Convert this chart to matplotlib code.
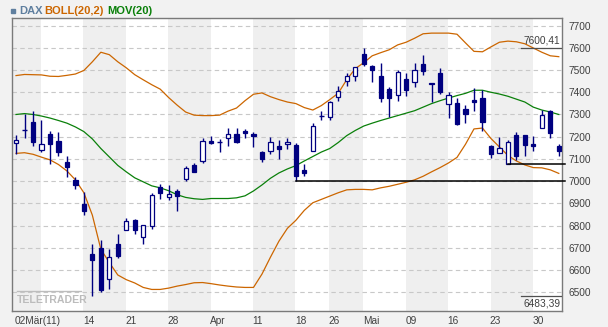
import matplotlib
matplotlib.use("Agg")
import matplotlib.pyplot as plt
import matplotlib.transforms as mtransforms

# DAX daily candles, 02.03.2011 - 02.06.2011 (one entry per trading day)
opens = [7171, 7230, 7265, 7139, 7213, 7180, 7084, 7006, 6898, 6672,
         6698, 6558, 6717, 6782, 6824, 6750, 6800, 6973, 6931, 6956,
         7012, 7072, 7090, 7181, 7175, 7194, 7214, 7227, 7214, 7133,
         7136, 7158, 7166, 7164, 7052, 7136, 7292, 7289, 7377, 7450,
         7473, 7573, 7519, 7474, 7414, 7387, 7459, 7444, 7528, 7443,
         7486, 7348, 7350, 7326, 7363, 7374, 7160, 7128, 7079, 7206,
         7206, 7166, 7240, 7315, 7156]
highs = [7208, 7304, 7316, 7276, 7226, 7220, 7114, 7019, 6950, 6717,
         6735, 6695, 6762, 6835, 6832, 6805, 6946, 6986, 6982, 6964,
         7069, 7081, 7193, 7202, 7190, 7239, 7239, 7235, 7223, 7136,
         7199, 7187, 7194, 7172, 7077, 7263, 7317, 7360, 7428, 7485,
         7513, 7600.41, 7522, 7533, 7425, 7500, 7488, 7533, 7569, 7443,
         7508, 7402, 7374, 7341, 7417, 7410, 7164, 7200, 7184, 7221,
         7208, 7204, 7321, 7321, 7165]
lows = [7123, 7194, 7156, 7129, 7076, 7111, 7021, 6964, 6848, 6483.39,
        6500, 6516, 6656, 6780, 6764, 6717, 6787, 6920, 6916, 6868,
        7003, 7042, 7081, 7166, 7129, 7157, 7170, 7193, 7152, 7085,
        7121, 7099, 7143, 7002, 7022, 7136, 7275, 7275, 7359, 7426,
        7452, 7519, 7444, 7354, 7287, 7360, 7383, 7422, 7477, 7354,
        7392, 7284, 7254, 7263, 7315, 7227, 7106, 7128, 7078, 7094,
        7111, 7135, 7240, 7194, 7111]
closes = [7184, 7230, 7178, 7166, 7166, 7133, 7066, 6982, 6868, 6645,
          6510, 6657, 6665, 6821, 6782, 6805, 6937, 6949, 6943, 6934,
          7058, 7043, 7180, 7172, 7175, 7214, 7175, 7215, 7202, 7100,
          7176, 7143, 7176, 7022, 7036, 7248, 7292, 7356, 7405, 7473,
          7513, 7527, 7498, 7372, 7372, 7491, 7408, 7500, 7494, 7435,
          7399, 7389, 7257, 7302, 7356, 7266, 7124, 7151, 7175, 7113,
          7164, 7158, 7296, 7218, 7135]

# Bollinger (20,2) bands and 20-day moving average
boll_upper = [7475, 7480, 7479, 7478, 7472, 7471, 7476, 7482, 7498, 7537,
              7580, 7569, 7537, 7510, 7479, 7456, 7434, 7414, 7376, 7342,
              7311, 7297, 7295, 7295, 7297, 7315, 7329, 7362, 7391, 7397,
              7380, 7367, 7356, 7349, 7331, 7320, 7340, 7367, 7396, 7457,
              7506, 7533, 7564, 7578, 7591, 7613, 7625, 7643, 7663, 7666,
              7666, 7666, 7661, 7622, 7584, 7582, 7604, 7625, 7630, 7627,
              7618, 7599, 7580, 7564, 7560]
boll_lower = [7125, 7128, 7121, 7108, 7096, 7075, 7046, 7006, 6948, 6847,
              6694, 6634, 6578, 6557, 6542, 6522, 6513, 6513, 6519, 6528,
              6535, 6543, 6544, 6539, 6533, 6528, 6524, 6522, 6522, 6582,
              6658, 6730, 6788, 6824, 6869, 6903, 6918, 6933, 6948, 6961,
              6963, 6963, 6961, 6970, 6977, 6986, 6995, 7006, 7022, 7042,
              7061, 7082, 7107, 7166, 7235, 7239, 7192, 7154, 7116, 7091,
              7073, 7061, 7060, 7051, 7035]
mov20 = [7300, 7304, 7300, 7293, 7284, 7273, 7261, 7244, 7223, 7190,
         7147, 7109, 7071, 7042, 7015, 6997, 6979, 6970, 6957, 6939,
         6927, 6921, 6918, 6922, 6922, 6922, 6925, 6934, 6956, 6983,
         7013, 7037, 7055, 7070, 7091, 7111, 7131, 7147, 7174, 7205,
         7228, 7248, 7261, 7273, 7284, 7295, 7306, 7317, 7333, 7349,
         7362, 7374, 7385, 7395, 7409, 7409, 7400, 7392, 7382, 7369,
         7356, 7333, 7320, 7311, 7300]

# first trading day of each week and its axis label
week_starts = [0, 3, 8, 13, 18, 23, 28, 33, 37, 41, 46, 51, 56, 61]
week_labels = ['02Mär(11)', '', '14', '21', '28', 'Apr', '11', '18', '26',
               'Mai', '09', '16', '23', '30']

y_ticks = [6500, 6600, 6700, 6800, 6900, 7000, 7100, 7200, 7300, 7400,
           7500, 7600, 7700]

# support lines: start index and level
support_lines = [(33, 7002), (58, 7078)]

CANDLE = '#000080'
ORANGE = '#cc6600'
GREEN = '#0a800a'
TXT = '#404040'

plt.rcParams['font.family'] = ['Liberation Sans', 'DejaVu Sans']

fig = plt.figure(figsize=(6.08, 3.27), dpi=100, facecolor='#f2f2f2')
ax = fig.add_axes([12.3 / 608, 1 - 311 / 327, (562 - 12.3) / 608, (311 - 18) / 327])
ax.set_facecolor('white')

x0, x1 = -0.44, 64.38
ax.set_xlim(x0, x1)
ax.set_ylim(6416, 7734)

# alternating week shading
for k, s in enumerate(week_starts):
    left = x0 if k == 0 else s - 0.05
    right = week_starts[k + 1] - 0.05 if k + 1 < len(week_starts) else x1
    if k % 2 == 0:
        ax.axvspan(left, right, color='#efefef', lw=0, zorder=0)

for v in y_ticks:
    ax.axhline(v, color='#c8c8c8', lw=0.8, dashes=(4, 3), zorder=1)

n = len(closes)
xs = list(range(n))

ax.plot(xs, boll_upper, color=ORANGE, lw=0.9, zorder=2)
ax.plot(xs, boll_lower, color=ORANGE, lw=0.9, zorder=2)
ax.plot(xs, mov20, color=GREEN, lw=0.9, zorder=2)

ax.vlines(xs, lows, highs, color=CANDLE, lw=1.0, zorder=3)
for i in xs:
    o, c = opens[i], closes[i]
    if o == c:
        ax.hlines(o, i - 0.3, i + 0.3, color=CANDLE, lw=1.0, zorder=4)
        continue
    face = 'white' if c > o else CANDLE
    ax.bar(i, abs(c - o), bottom=min(o, c), width=0.5, facecolor=face,
           edgecolor=CANDLE, linewidth=0.9, zorder=4)

for start, level in support_lines:
    ax.plot([start, x1 + 0.35], [level, level], color='black', lw=1.1,
            zorder=5, clip_on=False)

# max / min markers
hi = max(highs)
lo = min(lows)
ax.plot([x1 - 4.8, x1], [hi, hi], color='#505050', lw=0.9, zorder=5)
ax.text(x1 - 0.2, hi + 8, f"{hi:.2f}".replace('.', ','), ha='right', va='bottom',
        fontsize=7.3, color=TXT, zorder=6)
ax.plot([x1 - 4.8, x1], [lo, lo], color='#505050', lw=0.9, zorder=5)
ax.text(x1 - 0.2, lo - 10, f"{lo:.2f}".replace('.', ','), ha='right', va='top',
        fontsize=7.3, color=TXT, zorder=6)

# watermark
ax.plot([0.1, 7.7], [6505, 6505], color='#bdbdbd', lw=1.0, zorder=1)
ax.text(0.1, 6490, 'TELETRADER', fontsize=7.6, fontweight='bold', color='#bcbcbc',
        ha='left', va='top', zorder=1)

ax.yaxis.tick_right()
ax.set_yticks(y_ticks)
ax.set_yticklabels([str(v) for v in y_ticks])
ax.tick_params(axis='y', length=0, pad=5, labelsize=7.3, labelcolor=TXT)

ax.set_xticks(week_starts)
ax.set_xticklabels(week_labels)
ax.tick_params(axis='x', length=0, pad=3.5, labelsize=7.3, labelcolor=TXT)
for lab in ax.get_xticklabels():
    lab.set_ha('left')
    lab.set_transform(lab.get_transform() + mtransforms.ScaledTranslation(-1 / 100, 0, fig.dpi_scale_trans))

for sp in ax.spines.values():
    sp.set_color('#7a7a7a')
    sp.set_linewidth(1.0)

# legend line at the top
fig.patches.append(plt.Rectangle((11 / 608, 1 - 13 / 327), 4 / 608, 4 / 327,
                                 transform=fig.transFigure, color='#5f7f9f'))
fig.text(19 / 608, 1 - 11 / 327, 'DAX', color='#5f7f9f', fontsize=8, fontweight='bold', va='center')
fig.text(44 / 608, 1 - 11 / 327, 'BOLL(20,2)', color=ORANGE, fontsize=8, fontweight='bold', va='center')
fig.text(107 / 608, 1 - 11 / 327, 'MOV(20)', color=GREEN, fontsize=8, fontweight='bold', va='center')

fig.savefig('out.png', dpi=100, facecolor=fig.get_facecolor())
